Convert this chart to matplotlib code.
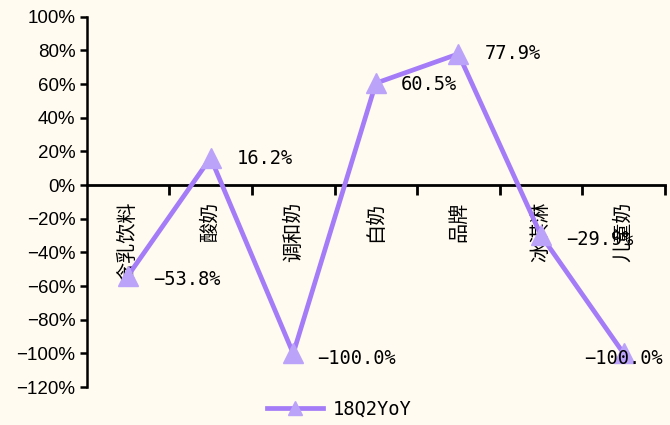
import matplotlib
matplotlib.use('Agg')

import numpy as np
import matplotlib.pyplot as plt
from matplotlib.ticker import PercentFormatter, FixedLocator

# ==========================================
# DATA
# ==========================================
categories = ['含乳饮料', '酸奶', '调和奶', '白奶', '品牌', '冰淇淋', '儿童奶']
yoy_18q2 = [-53.8, 16.2, -100.0, 60.5, 77.9, -29.9, -100.0]
series_name = '18Q2YoY'

# label offsets (pixels) relative to each point
label_dx = [25, 26, 24, 25, 26, 25, -39]
label_dy = [-4, -1, -5, -1, 0, -4, -5]

LINE_C = '#A47CF8'
FACE_C = '#BCA3FA'
BG = '#FFFBF0'
CJK = ['Noto Sans CJK SC', 'DejaVu Sans']

# ==========================================
# PLOT
# ==========================================
fig = plt.figure(figsize=(6.7, 4.25), dpi=100, facecolor=BG)
ax = fig.add_axes([0.1294, 0.089, 0.8631, 0.8718])
ax.set_facecolor(BG)

x = np.arange(len(categories))
ax.plot(x, yoy_18q2, color=LINE_C, linewidth=3.4, marker='^', markersize=14,
        markerfacecolor=FACE_C, markeredgecolor=FACE_C, label=series_name, zorder=3)

for i, v in enumerate(yoy_18q2):
    txt = f'{v:.1f}%'.replace('-', '\u2212')
    ax.annotate(txt, (x[i], v), xytext=(label_dx[i], label_dy[i]), textcoords='offset pixels',
                ha='left', va='center', fontsize=13.5, family='DejaVu Sans Mono',
                color='black', zorder=4)

# axes limits / spines
ax.set_xlim(-0.5, len(categories) - 0.5)
ax.set_ylim(-120, 100)
ax.spines['top'].set_visible(False)
ax.spines['right'].set_visible(False)
ax.spines['bottom'].set_position(('data', 0))
ax.spines['bottom'].set_linewidth(2)
ax.spines['left'].set_linewidth(1.8)

# y ticks
ax.set_yticks(np.arange(-120, 101, 20))
ax.yaxis.set_major_formatter(PercentFormatter(decimals=0))
ax.tick_params(axis='y', direction='out', length=5, width=1.8, pad=3, labelsize=13.5)
for lab in ax.get_yticklabels():
    lab.set_family('Liberation Sans')

# x ticks: labels at categories, marks at boundaries
ax.set_xticks(x)
ax.set_xticklabels(categories, rotation=90, family=CJK, fontsize=14.5, weight='light')
ax.tick_params(axis='x', which='major', length=0, pad=12)
ax.xaxis.set_minor_locator(FixedLocator(np.arange(0.5, len(categories), 1)))
ax.tick_params(axis='x', which='minor', direction='out', length=7, width=2)
for lab in ax.get_xticklabels():
    lab.set_verticalalignment('top')

fig.legend(loc='center', bbox_to_anchor=(0.506, 0.038), frameon=False,
           handlelength=3.0, prop={'family': 'DejaVu Sans Mono', 'size': 13.5},
           markerscale=0.75, handletextpad=0.5)

fig.savefig('out.png', dpi=100, facecolor=BG)
